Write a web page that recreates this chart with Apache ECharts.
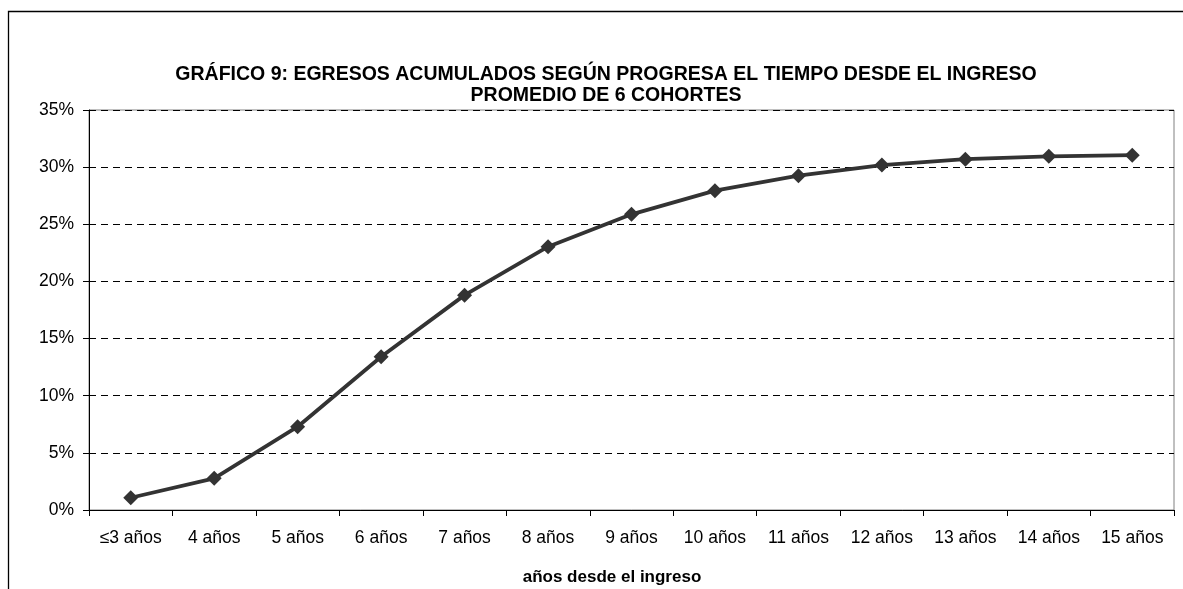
<!DOCTYPE html>
<html>
<head>
<meta charset="utf-8">
<script src="https://cdn.jsdelivr.net/npm/echarts@6/dist/echarts.min.js"></script>
<style>
html,body{margin:0;padding:0;background:#fff;}
#c{width:1183px;height:589px;}
</style>
</head>
<body>
<div id="c"></div>
<script>
var categories = ['≤3 años','4 años','5 años','6 años','7 años','8 años','9 años','10 años','11 años','12 años','13 años','14 años','15 años'];
var values = [1.07, 2.77, 7.29, 13.41, 18.8, 23.04, 25.87, 27.94, 29.25, 30.18, 30.7, 30.95, 31.05];
var titleLines = ['GRÁFICO 9: EGRESOS ACUMULADOS SEGÚN PROGRESA EL TIEMPO DESDE EL INGRESO', 'PROMEDIO DE 6 COHORTES'];
var xAxisName = 'años desde el ingreso';

var chart = echarts.init(document.getElementById('c'), null, {renderer:'canvas'});
var font = 'Arial, "Liberation Sans", Helvetica, sans-serif';
chart.setOption({
  animation:false,
  backgroundColor:'#fff',
  grid:{left:89, top:110, width:1085, height:400, containLabel:false,
        show:true, borderColor:'#808080', borderWidth:1, backgroundColor:'transparent'},
  xAxis:{
    type:'category', data:categories, boundaryGap:true,
    axisLine:{lineStyle:{color:'#000', width:1}},
    axisTick:{show:true, inside:false, length:6, alignWithLabel:false, lineStyle:{color:'#000'}},
    axisLabel:{color:'#000', fontFamily:font, fontSize:17.5, margin:19, interval:0},
    splitLine:{show:false}
  },
  yAxis:{
    type:'value', min:0, max:35, interval:5,
    axisLine:{show:true, lineStyle:{color:'#000', width:1}},
    axisTick:{show:true, length:6, lineStyle:{color:'#000'}},
    axisLabel:{color:'#000', fontFamily:font, fontSize:17.5, margin:15, formatter:'{value}%'},
    splitLine:{show:true, lineStyle:{color:'#000', type:[7,5], width:1}}
  },
  series:[{
    type:'line', data:values, symbol:'diamond', symbolSize:15,
    lineStyle:{color:'#333', width:3.8},
    itemStyle:{color:'#333'},
    z:5
  }],
  graphic:[
    {type:'rect', shape:{x:8.5, y:11.5, width:1300, height:700}, style:{fill:null, stroke:'#000', lineWidth:1.3}, silent:true},
    {type:'text', x:606, y:65, style:{text:titleLines[0], fill:'#000', font:'bold 19.5px '+font, align:'center', verticalAlign:'top'}},
    {type:'text', x:606, y:86, style:{text:titleLines[1], fill:'#000', font:'bold 19.5px '+font, align:'center', verticalAlign:'top'}},
    {type:'text', x:612, y:569, style:{text:xAxisName, fill:'#000', font:'bold 17px '+font, align:'center', verticalAlign:'top'}}
  ]
});
</script>
</body>
</html>
